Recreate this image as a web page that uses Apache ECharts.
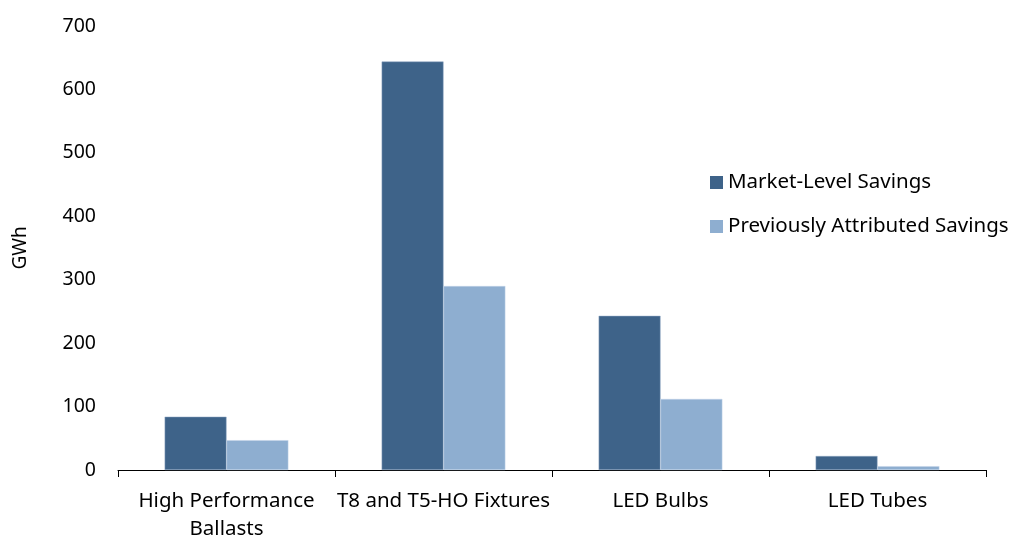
<!DOCTYPE html>
<html>
<head>
<meta charset="utf-8">
<script src="https://cdn.jsdelivr.net/npm/echarts@6/dist/echarts.min.js"></script>
<style>html,body{margin:0;padding:0;background:#fff}#c{width:1015px;height:537px}</style>
</head>
<body>
<div id="c"></div>
<script>
var categories = ["High Performance\nBallasts", "T8 and T5-HO Fixtures", "LED Bulbs", "LED Tubes"];
var marketLevel = [84, 644, 243, 22];
var previouslyAttributed = [47, 290, 112, 6];
var seriesNames = ["Market-Level Savings", "Previously Attributed Savings"];

var font = "Noto Sans";
var chart = echarts.init(document.getElementById('c'));
chart.setOption({
  backgroundColor: '#fff',
  animation: false,
  textStyle: {fontFamily: font},
  grid: {left: 118, right: 29, top: 26, bottom: 67, containLabel: false, outerBoundsMode: 'none'},
  legend: {
    orient: 'vertical',
    left: 710, top: 172, padding: 0,
    itemWidth: 13, itemHeight: 13, itemGap: 23,
    icon: 'rect',
    itemStyle: {borderWidth: 0},
    textStyle: {fontFamily: font, fontSize: 20.5, color: '#000'},
    data: seriesNames
  },
  xAxis: {
    type: 'category',
    data: categories,
    axisLine: {lineStyle: {color: '#000', width: 1}},
    axisTick: {show: true, length: 7, lineStyle: {color: '#000'}},
    axisLabel: {fontFamily: font, fontSize: 20.5, color: '#000', margin: 17, lineHeight: 28, interval: 0}
  },
  yAxis: {
    type: 'value', min: 0, max: 700, interval: 100,
    name: 'GWh', nameLocation: 'middle', nameGap: 88, nameRotate: 90,
    nameTextStyle: {fontFamily: font, fontSize: 19, color: '#000'},
    axisLine: {show: false}, axisTick: {show: false},
    splitLine: {show: false},
    axisLabel: {fontFamily: font, fontSize: 19.5, color: '#000', margin: 22}
  },
  series: [
    {name: seriesNames[0], type: 'bar', data: marketLevel, barGap: '0%', barCategoryGap: '43%',
     itemStyle: {color: '#3E6389', borderColor: '#8FA7C4', borderWidth: 0.5}},
    {name: seriesNames[1], type: 'bar', data: previouslyAttributed,
     itemStyle: {color: '#8EAED0', borderColor: '#C5D5E8', borderWidth: 0.5}}
  ]
});
</script>
</body>
</html>
